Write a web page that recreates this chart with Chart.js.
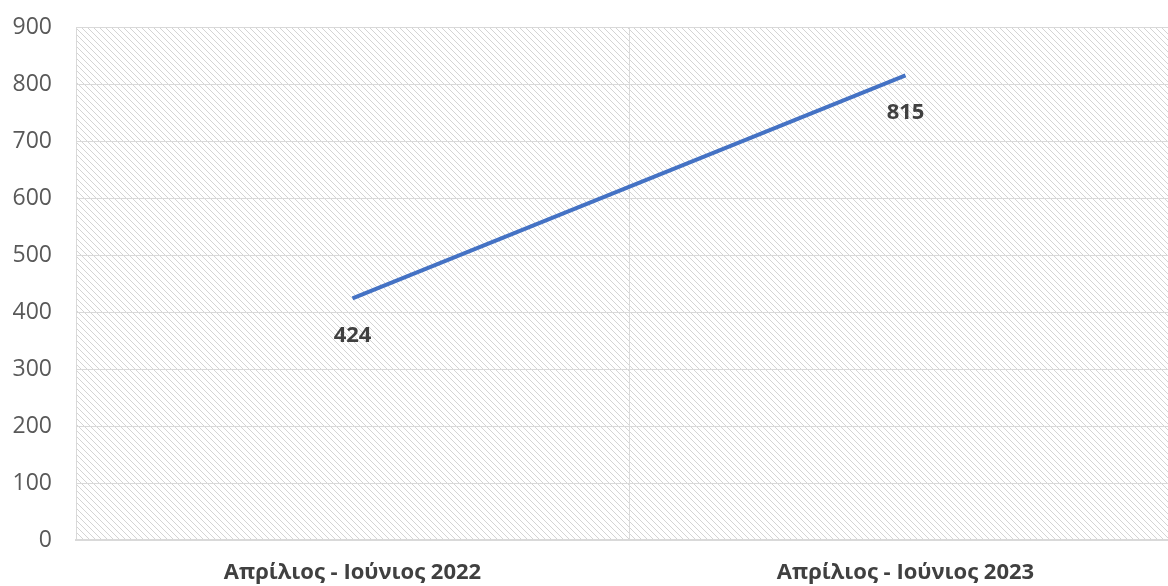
<!DOCTYPE html>
<html>
<head>
<meta charset="utf-8">
<script src="https://cdn.jsdelivr.net/npm/chart.js@4/dist/chart.umd.min.js"></script>
<style>
  html, body { margin: 0; padding: 0; background: #fff; overflow: hidden; }
  #wrap { width: 1182px; height: 586px; }
</style>
</head>
<body>
<div id="wrap"><canvas id="lineChart"></canvas></div>
<script>
const categories = ["Απρίλιος - Ιούνιος 2022", "Απρίλιος - Ιούνιος 2023"];
const values = [424, 815];
const yTicks = [0, 100, 200, 300, 400, 500, 600, 700, 800, 900];

function makeHatch() {
    const c = document.createElement("canvas");
    c.width = 6;
    c.height = 6;
    const g = c.getContext("2d");
    g.fillStyle = "#ffffff";
    g.fillRect(0, 0, 6, 6);
    g.strokeStyle = "#d4d4d4";
    g.lineWidth = 1;
    g.beginPath();
    g.moveTo(-1, -1);
    g.lineTo(7, 7);
    g.moveTo(-1, 5);
    g.lineTo(1, 7);
    g.moveTo(5, -1);
    g.lineTo(7, 1);
    g.stroke();
    return c;
}

const hatchPlugin = {
    id: "hatch",
    beforeDraw(chart) {
        const { ctx, chartArea } = chart;
        ctx.save();
        ctx.fillStyle = ctx.createPattern(makeHatch(), "repeat");
        ctx.fillRect(chartArea.left, chartArea.top, chartArea.right - chartArea.left, chartArea.bottom - chartArea.top);
        ctx.restore();
    }
};

const labelPlugin = {
    id: "valueLabels",
    afterDatasetsDraw(chart) {
        const ctx = chart.ctx;
        const meta = chart.getDatasetMeta(0);
        ctx.save();
        ctx.font = "bold 22px 'Open Sans'";
        ctx.fillStyle = "#404040";
        ctx.textAlign = "center";
        ctx.textBaseline = "middle";
        meta.data.forEach((pt, i) => {
            ctx.fillText(values[i], pt.x, pt.y + 37);
        });
        ctx.restore();
    }
};

const ctx = document.getElementById("lineChart").getContext("2d");

new Chart(ctx, {
    type: "line",
    data: {
        labels: categories,
        datasets: [{
            data: values,
            borderColor: "#4472C4",
            borderWidth: 4,
            pointRadius: 0,
            tension: 0,
            fill: false
        }]
    },
    options: {
        responsive: true,
        maintainAspectRatio: false,
        animation: false,
        layout: { padding: { top: 27, right: 0, left: 0, bottom: 0 } },
        plugins: {
            legend: { display: false },
            tooltip: { enabled: false }
        },
        scales: {
            x: {
                offset: true,
                grid: { offset: true, color: "#d9d9d9", lineWidth: 1, drawTicks: false },
                border: { color: "#d9d9d9", width: 2 },
                ticks: {
                    padding: 20,
                    color: "#404040",
                    font: { family: "Open Sans", size: 22, weight: "bold" },
                    maxRotation: 0
                },
                afterFit(scale) { scale.height = 46; }
            },
            y: {
                min: 0,
                max: 900,
                grid: { color: "#d9d9d9", lineWidth: 1, drawTicks: false },
                border: { display: false },
                afterBuildTicks(scale) { scale.ticks = yTicks.map(v => ({ value: v })); },
                ticks: {
                    padding: 24,
                    color: "#595959",
                    font: { family: "Open Sans", size: 23 }
                },
                afterFit(scale) {
                    scale.width = 76;
                    scale.paddingTop = 0;
                    scale.paddingBottom = 0;
                }
            }
        }
    },
    plugins: [hatchPlugin, labelPlugin]
});
</script>
</body>
</html>
